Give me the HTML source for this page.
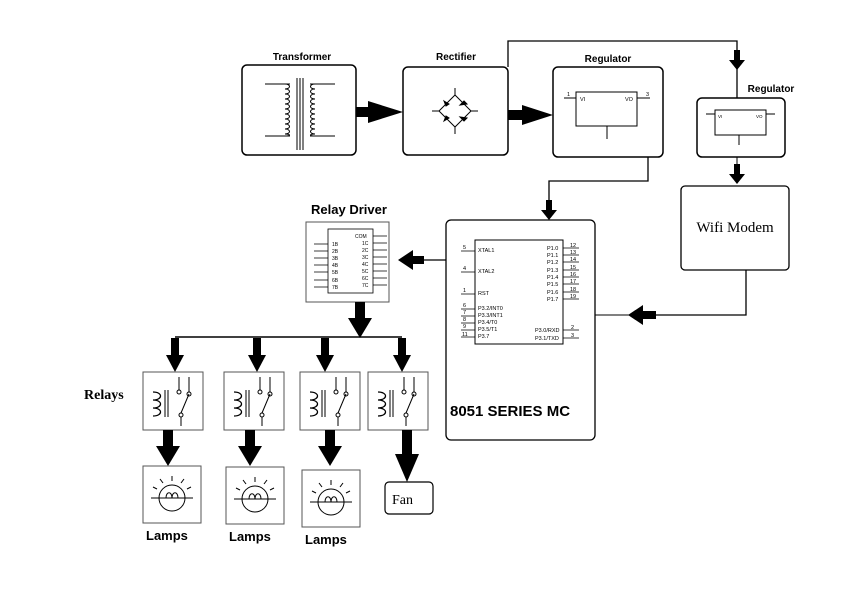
<!DOCTYPE html>
<html><head><meta charset="utf-8"><style>
body{margin:0;background:#fff}
svg{display:block}
text{font-family:"Liberation Sans",sans-serif}
.s{font-size:5.5px}
</style></head><body>
<svg width="868" height="601" viewBox="0 0 868 601" xmlns="http://www.w3.org/2000/svg" fill="none" stroke="#000">
<defs>
<g id="ad"><rect x="-3" y="0" width="6" height="12" fill="#000" stroke="none"/><polygon points="-8,10 8,10 0,20" fill="#000" stroke="none"/></g>
<g id="ab"><rect x="-4" y="0" width="8" height="20" fill="#000" stroke="none"/><polygon points="-9,17 9,17 0,34" fill="#000" stroke="none"/></g>
<g id="adb"><rect x="-5" y="0" width="10" height="18" fill="#000" stroke="none"/><polygon points="-12,16 12,16 0,36" fill="#000" stroke="none"/></g>
<g id="relay">
<rect x="0" y="0" width="60" height="58" stroke="#555"/>
<path d="M10,20 c10,0 10,8 0,8 c10,0 10,8 0,8 c10,0 10,8 0,8" stroke-width="1.3"/>
<line x1="22" y1="18" x2="22" y2="45"/><line x1="25" y1="18" x2="25" y2="45"/>
<line x1="36" y1="5" x2="36" y2="18"/><circle cx="36" cy="20" r="2" fill="#fff"/>
<line x1="46" y1="5" x2="46" y2="20"/><circle cx="46" cy="22" r="2" fill="#fff"/>
<line x1="46" y1="22" x2="38" y2="41"/><circle cx="38" cy="43" r="2" fill="#fff"/><line x1="38" y1="45" x2="38" y2="54"/>
</g>
<g id="lamp">
<rect x="0" y="0" width="58" height="57" stroke="#555"/>
<circle cx="29" cy="32" r="13" fill="#fff"/>
<line x1="8" y1="32" x2="50" y2="32"/>
<path d="M23,32 c0,-7 6,-7 6,0 c0,-7 6,-7 6,0"/>
<line x1="29" y1="10" x2="29" y2="15"/><line x1="17" y1="13" x2="20" y2="17"/><line x1="41" y1="13" x2="38" y2="17"/><line x1="10" y1="21" x2="14" y2="23"/><line x1="48" y1="21" x2="44" y2="23"/>
</g>
</defs>

<!-- Transformer -->
<text x="302" y="60" font-size="10" font-weight="bold" fill="#000" stroke="none" text-anchor="middle">Transformer</text>
<rect x="242" y="65" width="114" height="90" rx="5" stroke-width="1.5"/>
<path d="M265,84 H290 M265,136 H290 M285,84 c6,0 6,5 0,5 c6,0 6,5 0,5 c6,0 6,5 0,5 c6,0 6,5 0,5 c6,0 6,5 0,5 c6,0 6,5 0,5 c6,0 6,5 0,5 c6,0 6,5 0,5 c6,0 6,5 0,5 c6,0 6,5 0,5 c6,0 6,2 0,2"/>
<path d="M335,84 H310 M335,136 H310 M315,84 c-6,0 -6,5 0,5 c-6,0 -6,5 0,5 c-6,0 -6,5 0,5 c-6,0 -6,5 0,5 c-6,0 -6,5 0,5 c-6,0 -6,5 0,5 c-6,0 -6,5 0,5 c-6,0 -6,5 0,5 c-6,0 -6,5 0,5 c-6,0 -6,5 0,5 c-6,0 -6,2 0,2"/>
<line x1="297" y1="78" x2="297" y2="150"/><line x1="300" y1="78" x2="300" y2="150"/><line x1="303" y1="78" x2="303" y2="150"/>
<rect x="356" y="107" width="14" height="10" fill="#000" stroke="none"/><polygon points="368,101 403,112 368,123" fill="#000" stroke="none"/>

<!-- Rectifier -->
<text x="456" y="60" font-size="10" font-weight="bold" fill="#000" stroke="none" text-anchor="middle">Rectifier</text>
<rect x="403" y="67" width="105" height="88" rx="5" stroke-width="1.5"/>
<polygon points="439,111 455,95 471,111 455,127"/>
<path d="M455,88 V95 M455,127 V134 M432,111 H439 M471,111 H478"/>
<polygon points="444,101 449,104 446,106" fill="#000"/><polygon points="464,101 460,105 467,104" fill="#000"/><polygon points="444,121 449,118 446,116" fill="#000"/><polygon points="464,121 460,117 467,118" fill="#000"/>
<rect x="508" y="110" width="16" height="10" fill="#000" stroke="none"/><polygon points="522,105 553,115 522,125" fill="#000" stroke="none"/>
<path d="M508,67 V41 H737 V98" stroke-width="1.3"/>
<use href="#ad" x="737" y="50"/>

<!-- Regulator 1 -->
<text x="608" y="62" font-size="10" font-weight="bold" fill="#000" stroke="none" text-anchor="middle">Regulator</text>
<rect x="553" y="67" width="110" height="90" rx="5" stroke-width="1.5"/>
<rect x="576" y="92" width="61" height="34"/>
<path d="M564,98 H576 M637,98 H650 M607,126 V139"/>
<text x="580" y="101" class="s" fill="#000" stroke="none">VI</text><text x="625" y="101" class="s" fill="#000" stroke="none">VO</text>
<text x="567" y="96" class="s" fill="#000" stroke="none">1</text><text x="646" y="96" class="s" fill="#000" stroke="none">3</text>
<path d="M648,157 V181 H549 V204" stroke-width="1.3"/>
<use href="#ad" x="549" y="200"/>

<!-- Regulator 2 -->
<text x="771" y="92" font-size="10" font-weight="bold" fill="#000" stroke="none" text-anchor="middle">Regulator</text>
<rect x="697" y="98" width="88" height="59" rx="5" stroke-width="1.5"/>
<rect x="715" y="110" width="51" height="25"/>
<path d="M706,114 H715 M766,114 H775 M739,135 V145"/>
<text x="718" y="118" font-size="4.5" fill="#000" stroke="none">VI</text><text x="756" y="118" font-size="4.5" fill="#000" stroke="none">VO</text>
<use href="#ad" x="737" y="164"/>
<line x1="737" y1="157" x2="737" y2="166"/>

<!-- Wifi modem -->
<rect x="681" y="186" width="108" height="84" rx="4" stroke-width="1.3"/>
<text x="735" y="232" font-size="15" fill="#000" stroke="none" text-anchor="middle" style="font-family:'Liberation Serif',serif">Wifi Modem</text>
<path d="M746,270 V315 H655" stroke-width="1.3"/>
<path d="M655,315 H595"/>
<rect x="640" y="311" width="16" height="8" fill="#000" stroke="none"/><polygon points="643,305 628,315 643,325" fill="#000" stroke="none"/>

<!-- MCU -->
<rect x="446" y="220" width="149" height="220" rx="5" stroke-width="1.3"/>
<rect x="475" y="240" width="88" height="104"/>
<g stroke-width="0.8">
<path d="M461,251 H475 M461,272 H475 M461,294 H475 M461,309 H475 M461,316 H475 M461,323 H475 M461,330 H475 M461,337 H475"/>
<path d="M563,248 H579 M563,255 H579 M563,262 H579 M563,270 H579 M563,277 H579 M563,284 H579 M563,292 H579 M563,299 H579 M563,330 H579 M563,338 H579"/>
</g>
<g class="s" fill="#000" stroke="none">
<text x="478" y="252">XTAL1</text><text x="478" y="273">XTAL2</text><text x="478" y="295">RST</text>
<text x="478" y="310">P3.2/INT0</text><text x="478" y="317">P3.3/INT1</text><text x="478" y="324">P3.4/T0</text><text x="478" y="331">P3.5/T1</text><text x="478" y="338">P3.7</text>
<text x="547" y="250">P1.0</text><text x="547" y="257">P1.1</text><text x="547" y="264">P1.2</text><text x="547" y="272">P1.3</text><text x="547" y="279">P1.4</text><text x="547" y="286">P1.5</text><text x="547" y="294">P1.6</text><text x="547" y="301">P1.7</text>
<text x="535" y="332">P3.0/RXD</text><text x="535" y="340">P3.1/TXD</text>
<text x="463" y="249">5</text><text x="463" y="270">4</text><text x="463" y="292">1</text><text x="463" y="307">6</text><text x="463" y="314">7</text><text x="463" y="321">8</text><text x="463" y="328">9</text><text x="462" y="336">11</text>
<text x="570" y="247">12</text><text x="570" y="254">13</text><text x="570" y="261">14</text><text x="570" y="269">15</text><text x="570" y="276">16</text><text x="570" y="283">17</text><text x="570" y="291">18</text><text x="570" y="298">19</text><text x="571" y="329">2</text><text x="571" y="337">3</text>
</g>
<text x="450" y="416" font-size="15" font-weight="bold" fill="#000" stroke="none">8051 SERIES MC</text>
<line x1="446" y1="260" x2="420" y2="260" stroke-width="1.3"/>
<rect x="410" y="256" width="14" height="8" fill="#000" stroke="none"/><polygon points="413,250 398,260 413,270" fill="#000" stroke="none"/>

<!-- Relay Driver -->
<text x="349" y="214" font-size="13" font-weight="bold" fill="#000" stroke="none" text-anchor="middle">Relay Driver</text>
<rect x="306" y="222" width="83" height="80" stroke="#555"/>
<rect x="328" y="229" width="45" height="64" stroke-width="0.8"/>
<g stroke-width="0.7"><path d="M314,244 H328 M314,251 H328 M314,258 H328 M314,265 H328 M314,272 H328 M314,280 H328 M314,287 H328 M373,236 H387 M373,243 H387 M373,250 H387 M373,257 H387 M373,264 H387 M373,271 H387 M373,278 H387 M373,285 H387"/></g>
<g font-size="5" fill="#000" stroke="none">
<text x="332" y="246">1B</text><text x="332" y="253">2B</text><text x="332" y="260">3B</text><text x="332" y="267">4B</text><text x="332" y="274">5B</text><text x="332" y="282">6B</text><text x="332" y="289">7B</text>
<text x="355" y="238">COM</text><text x="362" y="245">1C</text><text x="362" y="252">2C</text><text x="362" y="259">3C</text><text x="362" y="266">4C</text><text x="362" y="273">5C</text><text x="362" y="280">6C</text><text x="362" y="287">7C</text>
</g>
<use href="#adb" x="360" y="302"/>
<line x1="175" y1="337" x2="402" y2="337" stroke-width="1.5"/>
<use href="#ab" x="175" y="338"/>
<use href="#ab" x="257" y="338"/>
<use href="#ab" x="325" y="338"/>
<use href="#ab" x="402" y="338"/>

<!-- Relays -->
<text x="84" y="399" font-size="14" font-weight="bold" style="font-family:'Liberation Serif',serif" fill="#000" stroke="none">Relays</text>
<use href="#relay" x="143" y="372"/><use href="#relay" x="224" y="372"/><use href="#relay" x="300" y="372"/><use href="#relay" x="368" y="372"/>
<use href="#adb" x="168" y="430"/><use href="#adb" x="250" y="430"/><use href="#adb" x="330" y="430"/>
<rect x="402" y="430" width="10" height="26" fill="#000" stroke="none"/><polygon points="395,454 419,454 407,482" fill="#000" stroke="none"/>

<!-- Lamps -->
<use href="#lamp" x="143" y="466"/><use href="#lamp" x="226" y="467"/><use href="#lamp" x="302" y="470"/>
<rect x="385" y="482" width="48" height="32" rx="4" stroke-width="1.2"/>
<text x="392" y="504" font-size="14" style="font-family:'Liberation Serif',serif" fill="#000" stroke="none">Fan</text>
<g font-size="13" font-weight="bold" fill="#000" stroke="none">
<text x="146" y="540">Lamps</text><text x="229" y="541">Lamps</text><text x="305" y="544">Lamps</text>
</g>
</svg>
</body></html>
